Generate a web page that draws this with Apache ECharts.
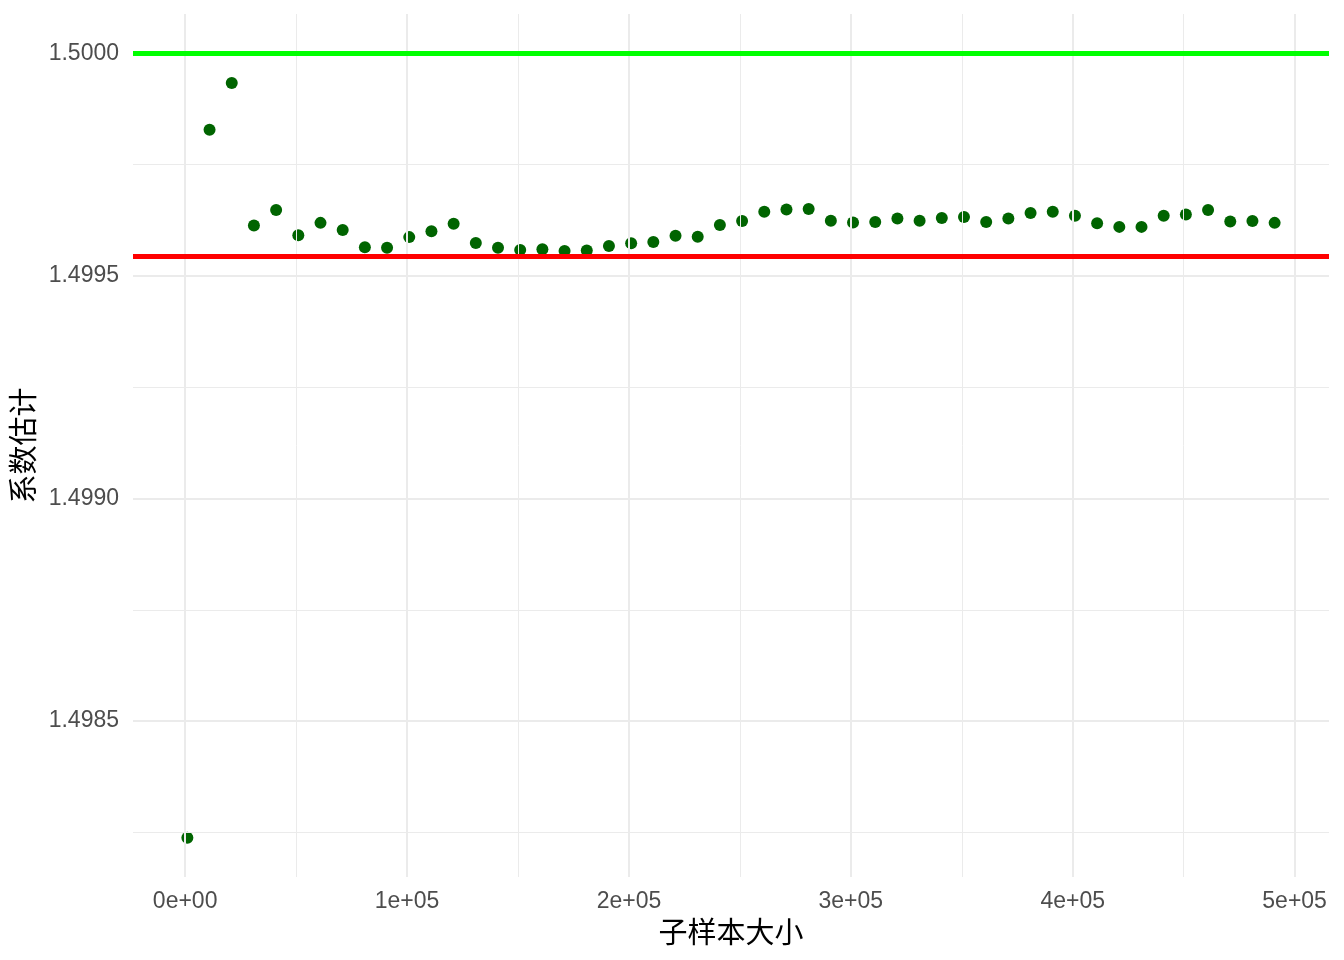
<!DOCTYPE html>
<html>
<head>
<meta charset="utf-8">
<script src="https://cdn.jsdelivr.net/npm/echarts@6/dist/echarts.min.js"></script>
<style>html,body{margin:0;padding:0;background:#fff}#c{width:1344px;height:960px}</style>
</head>
<body>
<div id="c"></div>
<script>
// ---- data ----
const sampleSizes = [1000, 11000, 21000, 31000, 41000, 51000, 61000, 71000, 81000, 91000,
  101000, 111000, 121000, 131000, 141000, 151000, 161000, 171000, 181000, 191000,
  201000, 211000, 221000, 231000, 241000, 251000, 261000, 271000, 281000, 291000,
  301000, 311000, 321000, 331000, 341000, 351000, 361000, 371000, 381000, 391000,
  401000, 411000, 421000, 431000, 441000, 451000, 461000, 471000, 481000, 491000];
const estimates = [1.498238, 1.499828, 1.499933, 1.499613, 1.499648, 1.499591, 1.499619, 1.499603, 1.499564, 1.499563,
  1.499587, 1.499600, 1.499617, 1.499574, 1.499563, 1.499558, 1.499560, 1.499556, 1.499557, 1.499567,
  1.499573, 1.499576, 1.499590, 1.499588, 1.499614, 1.499623, 1.499644, 1.499649, 1.499650, 1.499624,
  1.499620, 1.499621, 1.499629, 1.499624, 1.499630, 1.499632, 1.499621, 1.499629, 1.499641, 1.499644,
  1.499635, 1.499618, 1.499610, 1.499610, 1.499635, 1.499638, 1.499648, 1.499622, 1.499623, 1.499619];
const trueValue = 1.5;
const fullSampleEstimate = 1.499545;
const xTickValues = [0, 100000, 200000, 300000, 400000, 500000];
const xTickLabels = ['0e+00', '1e+05', '2e+05', '3e+05', '4e+05', '5e+05'];
const xMinorValues = [50000, 150000, 250000, 350000, 450000];
const yTickValues = [1.4985, 1.4990, 1.4995, 1.5000];
const yTickLabels = ['1.4985', '1.4990', '1.4995', '1.5000'];
const yMinorValues = [1.49825, 1.49875, 1.49925, 1.49975];
const xTitle = '子样本大小';
const yTitle = '系数估计';

// ---- scales (ggplot-style 5% expansion) ----
const ys = estimates.concat([trueValue, fullSampleEstimate]);
const xMinD = Math.min(...sampleSizes), xMaxD = Math.max(...sampleSizes);
const yMinD = Math.min(...ys), yMaxD = Math.max(...ys);
const xPad = (xMaxD - xMinD) * 0.05, yPad = (yMaxD - yMinD) * 0.05;
const X0 = xMinD - xPad, X1 = xMaxD + xPad, Y0 = yMinD - yPad, Y1 = yMaxD + yPad;

const gridMajor = {color: '#EBEBEB', width: 2, type: 'solid'};
const gridMinor = {color: '#EBEBEB', width: 1, type: 'solid'};
const vLine = (v, ls) => [{coord: [v, Y0], lineStyle: ls}, {coord: [v, Y1]}];
const hLine = (v, ls) => [{coord: [X0, v], lineStyle: ls}, {coord: [X1, v]}];
const gridLines = []
  .concat(xMinorValues.map(v => vLine(v, gridMinor)))
  .concat(yMinorValues.map(v => hLine(v, gridMinor)))
  .concat(xTickValues.map(v => vLine(v, gridMajor)))
  .concat(yTickValues.map(v => hLine(v, gridMajor)));

const font = '"Liberation Sans", Arial, sans-serif';
const cjk = '"Noto Sans CJK SC", "Liberation Sans", sans-serif';
const mlBase = {silent: true, symbol: ['none', 'none'], label: {show: false}, emphasis: {disabled: true}, animation: false};

const chart = echarts.init(document.getElementById('c'), null, {renderer: 'canvas'});
chart.setOption({
  animation: false,
  backgroundColor: '#ffffff',
  grid: {left: 133, right: 15, top: 14, bottom: 83, containLabel: false},
  xAxis: {
    type: 'value',
    min: X0, max: X1,
    axisLine: {show: false}, axisTick: {show: false}, splitLine: {show: false},
    axisLabel: {
      customValues: xTickValues,
      formatter: v => { const i = xTickValues.indexOf(Math.round(v)); return i >= 0 ? xTickLabels[i] : ''; },
      color: '#4D4D4D', fontSize: 23, fontFamily: font, margin: 13
    },
    name: xTitle, nameLocation: 'middle', nameGap: 38,
    nameTextStyle: {color: '#000', fontSize: 29, fontFamily: cjk}
  },
  yAxis: {
    type: 'value',
    min: Y0, max: Y1,
    axisLine: {show: false}, axisTick: {show: false}, splitLine: {show: false},
    axisLabel: {
      customValues: yTickValues,
      formatter: v => { const i = yTickValues.findIndex(t => Math.abs(t - v) < 1e-9); return i >= 0 ? yTickLabels[i] : ''; },
      color: '#4D4D4D', fontSize: 23, fontFamily: font, margin: 14, padding: [3, 0, 0, 0]
    },
    name: yTitle, nameLocation: 'middle', nameGap: 93,
    nameTextStyle: {color: '#000', fontSize: 29, fontFamily: cjk}
  },
  series: [
    {
      type: 'scatter', data: [], z: 1, silent: true,
      markLine: Object.assign({}, mlBase, {data: gridLines})
    },
    {
      type: 'scatter', data: [], z: 2, silent: true,
      markLine: Object.assign({}, mlBase, {
        data: [
          hLine(trueValue, {color: '#00FF00', width: 5, type: 'solid'}),
          hLine(fullSampleEstimate, {color: '#FF0000', width: 5, type: 'solid'})
        ]})
    },
    {
      type: 'scatter', z: 3,
      data: sampleSizes.map((x, i) => [x, estimates[i]]),
      symbol: 'circle', symbolSize: 12,
      itemStyle: {color: '#006400', opacity: 1}
    }
  ]
});
</script>
</body>
</html>
